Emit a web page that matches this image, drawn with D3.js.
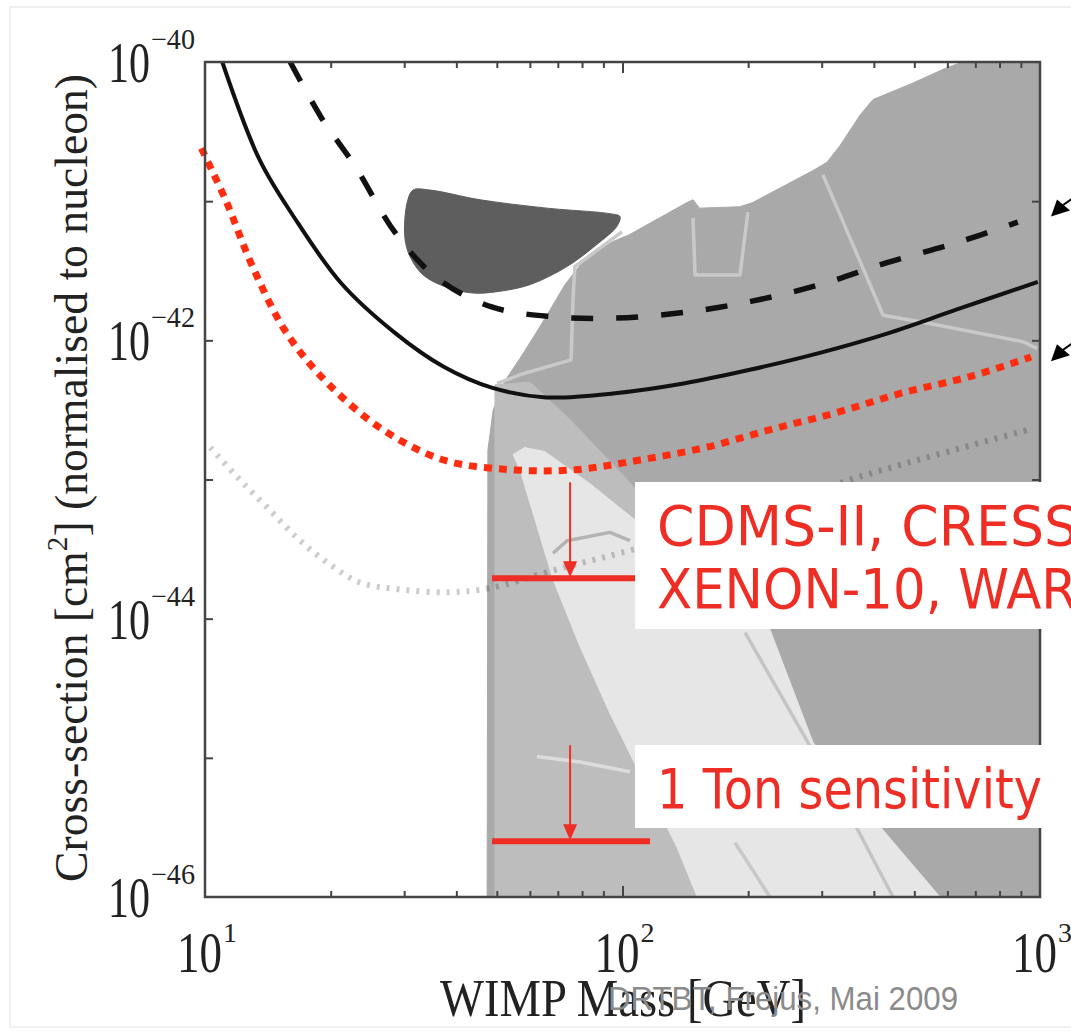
<!DOCTYPE html>
<html><head><meta charset="utf-8">
<script src="https://d3js.org/d3.v7.min.js"></script>
<style>
body { margin: 0; background: #fff; }
.serif { font-family: "Liberation Serif", "DejaVu Serif", serif; fill: #222; }
.note { font-family: "DejaVu Sans", sans-serif; fill: #ee2e24; }
</style></head>
<body>
<svg id="chart" width="1071" height="1031"></svg>
<script>
// WIMP mass in GeV, cross-section as log10(sigma / cm^2)
var solidMass = [11.0, 13.5, 16.3, 21.2, 28.6, 37.3, 48.6, 65.6, 96, 140, 203, 297, 432, 630, 988];
var solidLog  = [-40.00, -40.70, -41.11, -41.59, -41.95, -42.19, -42.34, -42.41, -42.38, -42.31, -42.21, -42.09, -41.95, -41.78, -41.58];

var dashedMass = [16.0, 19.0, 22.9, 28.6, 35.9, 48.6, 68.2, 96, 140, 203, 297, 432, 630, 885];
var dashedLog  = [-40.00, -40.40, -40.75, -41.23, -41.55, -41.76, -41.83, -41.84, -41.80, -41.72, -41.60, -41.44, -41.30, -41.15];

var redMass = [9.8, 11.2, 13.0, 15.7, 19.7, 26.6, 37.3, 54.3, 76.9, 110, 158, 227, 325, 465, 680, 952];
var redLog  = [-40.62, -40.99, -41.47, -41.95, -42.31, -42.64, -42.86, -42.93, -42.93, -42.86, -42.77, -42.64, -42.52, -42.38, -42.26, -42.12];

var faintMass = [10.3, 12.1, 14.3, 16.9, 19.9, 23.5, 29.3, 38.6, 48.2, 70.8, 110, 213, 370, 946];
var faintLog  = [-42.77, -43.00, -43.22, -43.44, -43.61, -43.74, -43.79, -43.81, -43.78, -43.64, -43.49, -43.22, -42.98, -42.64];

// shaded regions
var grayMass = [654, 599, 497, 398, 371, 332, 309, 286, 205, 191, 153, 147.5, 142.7, 104, 94.9, 85.9, 79.1, 72.8, 67.1, 61.7, 56.8, 52.3, 49.0, 47.6, 47.4, 1000, 1000];
var grayLog  = [-40.00, -40.04, -40.15, -40.27, -40.38, -40.60, -40.72, -40.78, -41.01, -41.04, -41.05, -40.99, -41.01, -41.24, -41.29, -41.37, -41.46, -41.60, -41.78, -41.96, -42.13, -42.29, -42.50, -42.79, -46.00, -46.00, -40.00];

var midMass = [49.5, 60.0, 74.9, 104, 153, 225, 286, 421, 576, 49.5];
var midLog  = [-42.32, -42.30, -42.57, -43.02, -43.65, -44.08, -44.89, -45.52, -46.00, -46.00];

var lightMass = [54.7, 58.4, 65.2, 83.6, 225, 286, 421, 576, 151, 135, 112, 93.3, 79.1, 68.2, 56.8];
var lightLog  = [-42.82, -42.77, -42.80, -43.03, -44.07, -44.89, -45.52, -46.00, -46.00, -45.64, -45.16, -44.68, -44.20, -43.72, -42.93];

var blobMass = [31.5, 30.5, 30.1, 31.0, 33.3, 38.0, 43.8, 50.1, 60.0, 73.6, 86.9, 97.0, 98.6, 93.3, 65.9, 45.6, 34.6];
var blobLog  = [-40.92, -41.01, -41.26, -41.40, -41.53, -41.62, -41.66, -41.65, -41.60, -41.47, -41.31, -41.18, -41.11, -41.09, -41.05, -40.99, -40.92];

// thin contour lines inside the shaded regions
var contourA = {mass: [99.7, 76.9, 76.1, 75.3, 57.8, 50.1], log: [-41.22, -41.47, -41.71, -42.14, -42.24, -42.31], color: "#c9c9c9"};
var contourU = {mass: [147.5, 149.2, 191.1, 199.7], log: [-41.12, -41.53, -41.53, -41.08], color: "#c9c9c9"};
var contourB = {mass: [302, 421, 525, 911, 984], log: [-40.81, -41.82, -41.87, -42.01, -42.06], color: "#c9c9c9"};
var contourL1 = {mass: [196.6, 278.2, 366.5, 444.5], log: [-44.10, -44.89, -45.52, -46.00], color: "#c4c4c4"};
var contourL2 = {mass: [186.0, 225.5], log: [-45.61, -46.00], color: "#c8c8c8"};
var contourLoop = {mass: [68.2, 73.6, 93.3, 104.2], log: [-43.53, -43.44, -43.38, -43.44], color: "#b3b3b3"};
var contourLow = {mass: [62.4, 79.1, 104.2], log: [-44.99, -45.03, -45.10], color: "#dcdcdc"};

// sensitivity levels marked with red arrows
var levelLog = [-43.71, -45.60];
var levelFrom = [-43.02, -44.91];
var levelText = [["CDMS-II, CRESST,", "XENON-10, WARP"], ["1 Ton sensitivity"]];

var massTicks = [10, 100, 1000];
var massTickExp = ["1", "2", "3"];
var sigmaTicks = [-40, -42, -44, -46];
var sigmaTickExp = ["\u221240", "\u221242", "\u221244", "\u221246"];

var plotLeft = 205, plotRight = 1040, plotTop = 62, plotBottom = 897;

var x = d3.scaleLog().domain([10, 1000]).range([plotLeft, plotRight]);
var y = d3.scaleLog().domain([1e-46, 1e-40]).range([plotBottom, plotTop]);
function sy(e) { return y(Math.pow(10, e)); }

var svg = d3.select("#chart");

// faint page border
svg.append("rect").attr("x", 10).attr("y", 7).attr("width", 1080).attr("height", 1020)
    .attr("fill", "none").attr("stroke", "#ececec").attr("stroke-width", 1.5);

var plot = svg.append("g");

var area = d3.line().x(function(d) { return x(d[0]); }).y(function(d) { return sy(d[1]); });
var smooth = d3.line().x(function(d) { return x(d[0]); }).y(function(d) { return sy(d[1]); }).curve(d3.curveCatmullRom);

function poly(m, l, fill, curve) {
    plot.append("path").datum(d3.zip(m, l))
        .attr("d", curve ? d3.line().x(function(d) { return x(d[0]); }).y(function(d) { return sy(d[1]); }).curve(curve) : function(d) { return area(d) + "Z"; })
        .attr("fill", fill).attr("stroke", fill).attr("stroke-width", 1);
}

poly(grayMass, grayLog, "#a9a9a9");
poly(midMass, midLog, "#bdbdbd");
poly(lightMass, lightLog, "#e6e6e6");

[contourA, contourU, contourB, contourL1, contourL2, contourLoop, contourLow].forEach(function(c) {
    plot.append("path").datum(d3.zip(c.mass, c.log))
        .attr("d", area).attr("fill", "none").attr("stroke", c.color)
        .attr("stroke-width", 3.5).attr("stroke-linejoin", "round");
});

poly(blobMass, blobLog, "#5e5e5e", d3.curveCatmullRomClosed);

// limit curves
plot.append("path").datum(d3.zip(faintMass, faintLog)).attr("d", smooth)
    .attr("fill", "none").attr("stroke", "rgba(0,0,0,0.2)").attr("stroke-width", 6)
    .attr("stroke-dasharray", "3,7");

plot.append("path").datum(d3.zip(solidMass, solidLog)).attr("d", smooth)
    .attr("fill", "none").attr("stroke", "#111").attr("stroke-width", 4);

plot.append("path").datum(d3.zip(dashedMass, dashedLog)).attr("d", smooth)
    .attr("fill", "none").attr("stroke", "#111").attr("stroke-width", 5.5)
    .attr("stroke-dasharray", "22,23");

plot.append("path").datum(d3.zip(redMass, redLog)).attr("d", smooth)
    .attr("fill", "none").attr("stroke", "#ff2d0f").attr("stroke-width", 7)
    .attr("stroke-dasharray", "8,7");

// ticks
var minorMass = [20, 30, 40, 50, 60, 70, 80, 90, 200, 300, 400, 500, 600, 700, 800, 900];
var decades = [1e-41, 1e-42, 1e-43, 1e-44, 1e-45];
function tickStyle(g) {
    g.select(".domain").remove();
    g.selectAll("line").attr("stroke", "#444").attr("stroke-width", 2);
}
svg.append("g").attr("transform", "translate(0," + plotBottom + ")")
    .call(d3.axisBottom(x).tickValues(minorMass).tickSize(-6).tickFormat("")).call(tickStyle);
svg.append("g").attr("transform", "translate(0," + plotBottom + ")")
    .call(d3.axisBottom(x).tickValues([100]).tickSize(-11).tickFormat("")).call(tickStyle);
svg.append("g").attr("transform", "translate(0," + plotTop + ")")
    .call(d3.axisTop(x).tickValues(minorMass).tickSize(-6).tickFormat("")).call(tickStyle);
svg.append("g").attr("transform", "translate(0," + plotTop + ")")
    .call(d3.axisTop(x).tickValues([100]).tickSize(-11).tickFormat("")).call(tickStyle);
svg.append("g").attr("transform", "translate(" + plotLeft + ",0)")
    .call(d3.axisLeft(y).tickValues(decades).tickSize(-8).tickFormat("")).call(tickStyle);
svg.append("g").attr("transform", "translate(" + plotRight + ",0)")
    .call(d3.axisRight(y).tickValues(decades).tickSize(-8).tickFormat("")).call(tickStyle);

svg.append("rect").attr("x", plotLeft).attr("y", plotTop).attr("width", plotRight - plotLeft).attr("height", plotBottom - plotTop)
    .attr("fill", "none").attr("stroke", "#444").attr("stroke-width", 2.5);

// tick labels
massTicks.forEach(function(m, i) {
    svg.append("text").attr("class", "serif").attr("font-size", 58)
        .attr("x", x(m) - 28).attr("y", 972).attr("textLength", 45).attr("lengthAdjust", "spacingAndGlyphs").text("10");
    svg.append("text").attr("class", "serif").attr("font-size", 28)
        .attr("x", x(m) + 18).attr("y", 942).text(massTickExp[i]);
});
sigmaTicks.forEach(function(e, i) {
    svg.append("text").attr("class", "serif").attr("font-size", 58)
        .attr("x", 108).attr("y", sy(e) + 20).attr("textLength", 42).attr("lengthAdjust", "spacingAndGlyphs").text("10");
    svg.append("text").attr("class", "serif").attr("font-size", 29)
        .attr("x", 151).attr("y", sy(e) - 13).attr("textLength", 44).attr("lengthAdjust", "spacingAndGlyphs").text(sigmaTickExp[i]);
});

// axis titles
var yt = svg.append("text").attr("class", "serif").attr("font-size", 47)
    .attr("transform", "translate(87,478) rotate(-90)").attr("text-anchor", "middle")
    .attr("textLength", 808).attr("lengthAdjust", "spacingAndGlyphs");
yt.append("tspan").text("Cross-section [cm");
yt.append("tspan").attr("font-size", 30).attr("dy", -20).text("2");
yt.append("tspan").attr("dy", 20).text("] (normalised to nucleon)");

svg.append("text").attr("class", "serif").attr("font-size", 52)
    .attr("x", 440).attr("y", 1016).attr("textLength", 366).attr("lengthAdjust", "spacingAndGlyphs")
    .text("WIMP Mass [GeV]");

svg.append("text").attr("font-family", "'Liberation Sans', Arial, sans-serif").attr("font-size", 34)
    .attr("fill", "#8a8a8a").attr("x", 608).attr("y", 1010).attr("textLength", 350)
    .attr("lengthAdjust", "spacingAndGlyphs").text("DRTBT, Frejus, Mai 2009");

// annotation boxes
var boxes = [{x: 635, y: 482, w: 450, h: 147, lines: levelText[0], len: [471, 451]},
             {x: 635, y: 745, w: 415, h: 83, lines: levelText[1], len: [385]}];
boxes.forEach(function(b) {
    svg.append("rect").attr("x", b.x).attr("y", b.y).attr("width", b.w).attr("height", b.h).attr("fill", "#fff");
    b.lines.forEach(function(s, j) {
        svg.append("text").attr("class", "note").attr("font-size", 55)
            .attr("x", 657).attr("y", b.y + 63 + j * 63)
            .attr("textLength", b.len[j]).attr("lengthAdjust", "spacingAndGlyphs").text(s);
    });
});

// red arrows to the sensitivity levels
var arrowMass = 74.9;
var barEnd = [107.2, 116.4];
levelLog.forEach(function(l, i) {
    var ax = x(arrowMass), y0 = sy(levelFrom[i]), y1 = sy(l);
    svg.append("line").attr("x1", ax).attr("x2", ax).attr("y1", y0).attr("y2", y1 - 14)
        .attr("stroke", "#ee2e24").attr("stroke-width", 2);
    svg.append("path").attr("d", "M" + (ax - 7) + "," + (y1 - 17) + "L" + (ax + 7) + "," + (y1 - 17) + "L" + ax + "," + (y1 - 1) + "Z")
        .attr("fill", "#ee2e24");
    svg.append("line").attr("x1", x(48.7)).attr("x2", x(barEnd[i])).attr("y1", y1).attr("y2", y1)
        .attr("stroke", "#ee2e24").attr("stroke-width", 6);
});

// black arrows pointing at the curves from the right
var arrowTips = [-41.11, -42.15];
arrowTips.forEach(function(l) {
    var tx = plotRight + 11, ty = sy(l);
    svg.append("path").attr("d", "M" + tx + "," + ty + "L" + (tx + 6) + "," + (ty - 17) + "L" + (tx + 19) + "," + (ty - 6) + "Z").attr("fill", "#000");
    svg.append("line").attr("x1", tx + 10).attr("y1", ty - 10).attr("x2", tx + 30).attr("y2", ty - 24)
        .attr("stroke", "#000").attr("stroke-width", 2);
});
</script>
</body></html>
